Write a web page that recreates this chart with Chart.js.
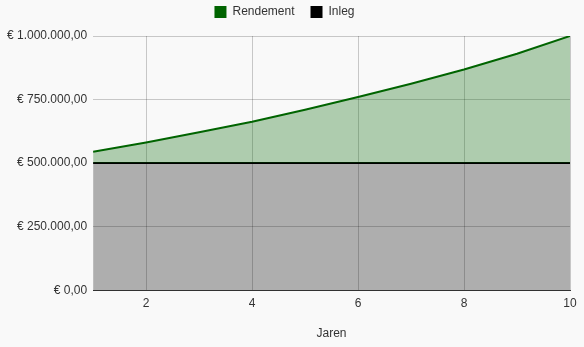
<!DOCTYPE html>
<html>
<head>
<meta charset="utf-8">
<script src="https://cdn.jsdelivr.net/npm/chart.js@4/dist/chart.umd.min.js"></script>
<style>
  html, body { margin: 0; padding: 0; background: #f9f9f9; }
  #wrap { width: 584px; height: 347px; }
</style>
</head>
<body>
<div id="wrap"><canvas id="grafiek"></canvas></div>
<script>
// jaren en bedragen
var jaren = [1, 2, 3, 4, 5, 6, 7, 8, 9, 10];
var rendement = [545000, 581000, 621000, 663000, 710000, 760000, 812000, 868000, 930000, 1000000];
var inleg = [500000, 500000, 500000, 500000, 500000, 500000, 500000, 500000, 500000, 500000];
var yTicks = [0, 250000, 500000, 750000, 1000000];

function euro(v) {
  var s = Math.round(v).toString();
  var out = "";
  while (s.length > 3) {
    out = "." + s.slice(-3) + out;
    s = s.slice(0, -3);
  }
  return "€ " + s + out + ",00";
}

function punten(arr) {
  return jaren.map(function (j, i) { return { x: j, y: arr[i] }; });
}

Chart.defaults.font.family = "'Liberation Sans', Arial, sans-serif";
Chart.defaults.font.size = 12;
Chart.defaults.color = "#333";

// legenda iets omhoog, minder ruimte eronder
var legendaPlek = {
  id: "legendaPlek",
  beforeInit: function (chart) {
    var fit = chart.legend.fit;
    chart.legend.fit = function () {
      fit.bind(chart.legend)();
      this.height -= 2;
    };
  },
  afterLayout: function (chart) {
    var l = chart.legend;
    l.top -= 10;
    l.bottom -= 10;
    l.left -= 1;
    l.right -= 1;
  }
};

var ctx = document.getElementById("grafiek").getContext("2d");
var grafiek = new Chart(ctx, {
  type: "line",
  data: {
    datasets: [
      {
        label: "Rendement",
        data: punten(rendement),
        borderColor: "#006400",
        backgroundColor: "rgba(0,100,0,0.3)",
        borderWidth: 2,
        pointRadius: 0,
        tension: 0,
        fill: "+1"
      },
      {
        label: "Inleg",
        data: punten(inleg),
        borderColor: "#000",
        backgroundColor: "rgba(0,0,0,0.3)",
        borderWidth: 2,
        pointRadius: 0,
        tension: 0,
        fill: "origin"
      }
    ]
  },
  options: {
    responsive: true,
    maintainAspectRatio: false,
    animation: false,
    layout: { padding: { left: 1, right: 14, top: 0, bottom: 6 } },
    plugins: {
      tooltip: { enabled: false },
      legend: {
        position: "top",
        labels: {
          boxWidth: 12,
          boxHeight: 12,
          padding: 16,
          generateLabels: function (chart) {
            var items = Chart.defaults.plugins.legend.labels.generateLabels(chart);
            items.forEach(function (it) {
              it.fillStyle = it.strokeStyle;
              it.lineWidth = 0;
            });
            return items;
          }
        }
      }
    },
    scales: {
      x: {
        type: "linear",
        min: 1,
        max: 10,
        ticks: { stepSize: 2, includeBounds: false, padding: 6, maxRotation: 0 },
        grid: { color: "rgba(0,0,0,0.2)", drawTicks: false },
        border: { color: "#333", width: 1 },
        title: { display: true, text: "Jaren", padding: { top: 10, bottom: 0 } }
      },
      y: {
        min: 0,
        max: 1000000,
        afterBuildTicks: function (axis) {
          axis.ticks = yTicks.map(function (v) { return { value: v }; });
        },
        ticks: {
          callback: function (v) { return euro(v); },
          padding: 6
        },
        grid: { color: "rgba(0,0,0,0.2)", drawTicks: false },
        border: { display: false }
      }
    }
  },
  plugins: [legendaPlek]
});
</script>
</body>
</html>
